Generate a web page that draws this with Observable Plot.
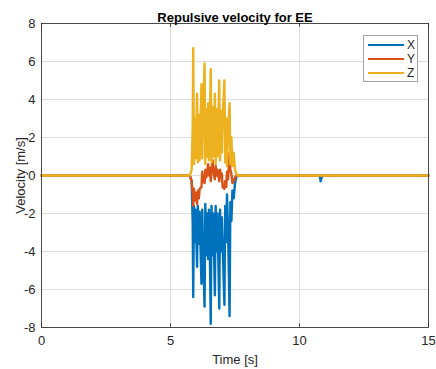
<!DOCTYPE html>
<html>
<head>
<meta charset="utf-8">
<script src="https://cdn.jsdelivr.net/npm/d3@7"></script>
<script src="https://cdn.jsdelivr.net/npm/@observablehq/plot@0.6"></script>
<style>
  html, body { margin: 0; padding: 0; background: #fff; }
  #wrap { position: relative; width: 436px; height: 369px; font-family: "Liberation Sans", Arial, sans-serif; }
  #legend { position: absolute; left: 363px; top: 35px; width: 55px; height: 47px; background: #fff; border: 1px solid #a0a0a0; box-sizing: border-box; font-size: 12px; color: #262626; }
  .li { position: absolute; left: 4px; height: 14px; display: flex; align-items: center; }
  .li span.sw { display: inline-block; width: 36px; height: 2.5px; margin-right: 3px; }
</style>
</head>
<body>
<div id="wrap"></div>
<script>
// Data
const seriesNames = ["X", "Y", "Z"];
const seriesColors = ["#0072BD", "#D95319", "#EDB120"];
const time = [0, 5.75,
  5.82, 5.86, 5.88, 5.91, 5.94, 5.97, 6.03, 6.06, 6.10, 6.13,
  6.20, 6.23, 6.26, 6.32, 6.35, 6.39, 6.42, 6.46, 6.49, 6.52,
  6.56, 6.59, 6.63, 6.66, 6.72, 6.75, 6.79, 6.82, 6.89, 6.92,
  6.96, 6.99, 7.02, 7.09, 7.12, 7.16, 7.19, 7.23, 7.29, 7.32,
  7.36, 7.40, 7.45, 7.50, 7.55, 7.60,
  10.78, 10.82, 10.86, 10.90, 15];
const velX = [0, 0,
  -0.3, -2.5, -6.4, -1.6, -3.5, -1.8, -4.8, -1.6, -3.6, -1.9,
  -5.7, -1.8, -3.8, -6.9, -1.5, -4.2, -2.0, -4.4, -1.8, -3.4,
  -7.8, -1.6, -4.2, -2.0, -6.3, -1.6, -4.0, -2.0, -7.0, -1.8,
  -4.0, -2.2, -3.6, -6.8, -1.6, -3.5, -1.0, -2.8, -7.4, -1.4,
  -2.4, -0.8, -1.2, -0.4, -0.1, 0,
  0, -0.3, -0.1, 0, 0];
const velY = [0, 0,
  -0.3, -0.9, -1.6, -0.7, -1.3, -0.9, -1.5, -0.8, -1.2, -0.7,
  -0.6, 0.2, -0.3, -0.4, 0.3, -0.1, 0.2, 0.6, 0.0, 0.4,
  -0.3, 0.4, 0.8, 0.2, -0.2, 0.5, 0.0, 0.3, -0.3, 0.3,
  -0.1, 0.1, -0.6, -0.7, -0.3, -0.6, 0.2, -0.2, 1.2, 0.3,
  0.1, -0.4, -0.3, -0.1, 0, 0,
  0, 0, 0, 0, 0];
const velZ = [0, 0,
  0.3, 2.5, 6.7, 0.6, 3.0, 0.9, 4.3, 0.7, 3.2, 0.8,
  4.8, 0.9, 3.0, 5.9, 0.6, 3.5, 1.0, 3.8, 0.8, 2.8,
  5.6, 0.7, 3.6, 1.0, 4.3, 0.6, 3.5, 1.0, 5.0, 0.8,
  3.4, 1.2, 3.0, 5.0, 0.7, 3.0, 0.5, 2.4, 3.8, 0.6,
  2.0, 0.5, 1.2, 0.3, 0.1, 0,
  0, 0, 0, 0, 0];
const xTicks = [0, 5, 10, 15];
const yTicks = [-8, -6, -4, -2, 0, 2, 4, 6, 8];
const titleText = "Repulsive velocity for EE";
const xLabel = "Time [s]";
const yLabel = "Velocity [m/s]";

const vals = [velX, velY, velZ];
const rows = [];
seriesNames.forEach((s, k) => time.forEach((t, i) => rows.push({series: s, t, v: vals[k][i]})));

const ink = "#262626";
const chart = Plot.plot({
  width: 436,
  height: 369,
  marginLeft: 41,
  marginRight: 8,
  marginTop: 23,
  marginBottom: 42,
  style: { fontFamily: "Liberation Sans, Arial, sans-serif", fontSize: "12px", color: ink, background: "#fff" },
  x: { domain: [0, 15] },
  y: { domain: [-8, 8] },
  color: { domain: seriesNames, range: seriesColors },
  marks: [
    Plot.gridX(xTicks, { stroke: "#dcdcdc", strokeOpacity: 1, strokeWidth: 1 }),
    Plot.gridY(yTicks, { stroke: "#dcdcdc", strokeOpacity: 1, strokeWidth: 1 }),
    Plot.line(rows, { x: "t", y: "v", z: "series", stroke: "series", strokeWidth: 2.4, curve: "linear" }),
    Plot.frame({ stroke: ink, strokeWidth: 0.8 }),
    Plot.ruleX(xTicks, { y1: -8, y2: -7.8, stroke: ink, strokeWidth: 0.8 }),
    Plot.ruleX(xTicks, { y1: 8, y2: 7.8, stroke: ink, strokeWidth: 0.8 }),
    Plot.axisX(xTicks, { tickSize: 0, tickPadding: 8, tickFormat: d => String(d), label: xLabel, labelAnchor: "center", labelArrow: "none", labelOffset: 36, fontSize: 13, fill: ink, fontVariant: "normal" }),
    Plot.axisY(yTicks, { tickSize: 0, tickPadding: 6, tickFormat: d => String(d), label: yLabel, labelAnchor: "center", labelArrow: "none", labelOffset: 26, fontSize: 13, fill: ink, fontVariant: "normal" }),
    Plot.text([titleText], { frameAnchor: "top", dy: -11, fontWeight: "bold", fontSize: 13, fill: "#000" })
  ]
});
const wrap = document.getElementById("wrap");
wrap.appendChild(chart);

// legend
const lg = document.createElement("div");
lg.id = "legend";
seriesNames.forEach((s, i) => {
  const li = document.createElement("div");
  li.className = "li";
  li.style.top = (2 + i * 14) + "px";
  li.innerHTML = `<span class="sw" style="background:${seriesColors[i]}"></span><span>${s}</span>`;
  lg.appendChild(li);
});
wrap.appendChild(lg);
</script>
</body>
</html>
